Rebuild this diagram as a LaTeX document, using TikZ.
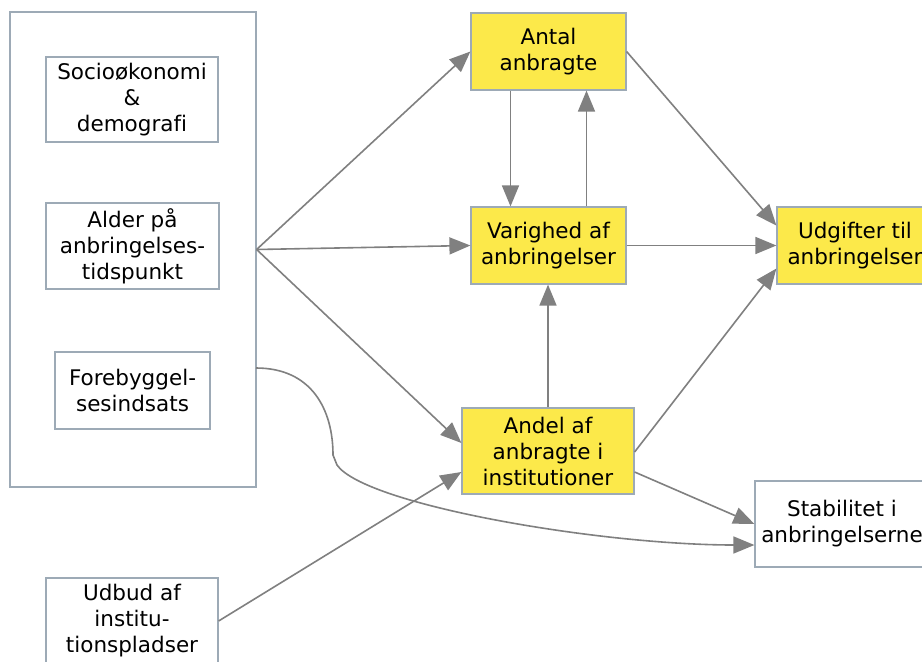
\documentclass[tikz,border=0pt]{standalone}
\usepackage{fontspec}
\setmainfont[Ligatures=NoCommon]{DejaVu Sans}
\usetikzlibrary{arrows.meta,calc}
\definecolor{boxline}{HTML}{9DAAB6}
\definecolor{hilite}{HTML}{FCE94A}
\definecolor{flow}{HTML}{808080}
\begin{document}
\begin{tikzpicture}[x=1pt,y=-1pt,
  box/.style={draw=boxline,line width=1.2pt,fill=white,inner sep=0pt,align=center,
    font=\fontsize{21.5}{26}\selectfont},
  keybox/.style={box,fill=hilite},
  link/.style={draw=flow,line width=1.6pt,-{Triangle[length=21pt,width=17pt]}}]
\clip (0,0) rectangle (922,662);
\fill[white] (0,0) rectangle (922,662);

% left column: background factors grouped in one frame
\node[box,minimum width=246pt,minimum height=475pt] (group) at (133,249.5) {};
\node[box,minimum width=172pt,minimum height=85pt] (socio) at (132,99.5) {Socioøkonomi\\\&\\demografi};
\node[box,minimum width=173pt,minimum height=86pt] (alder) at (132.5,246) {Alder på\\anbringelses-\\tidspunkt};
\node[box,minimum width=155pt,minimum height=77pt] (fore) at (132.5,390.5) {Forebyggel-\\sesindsats};
\node[box,minimum width=172pt,minimum height=86pt] (udbud) at (132,621) {Udbud af\\institu-\\tionspladser};

% middle column: highlighted outcomes
\node[keybox,minimum width=155pt,minimum height=77pt] (antal) at (548.5,51.5) {Antal\\anbragte};
\node[keybox,minimum width=155pt,minimum height=77pt] (varighed) at (548.5,245.5) {Varighed af\\anbringelser};
\node[keybox,minimum width=172pt,minimum height=86pt] (andel) at (548,451) {Andel af\\anbragte i\\institutioner};

% right column
\node[keybox,minimum width=156pt,minimum height=77pt] (udgifter) at (855,245.5) {Udgifter til\\anbringelser};
\node[box,minimum width=174pt,minimum height=86pt] (stab) at (842,524) {Stabilitet i\\anbringelserne};

\coordinate (curvestart) at (256,368);

% connectors
\draw[link] (group.east) -- (antal.west);
\draw[link] (group.east) -- (varighed.west);
\draw[link] (group.east) -- ($(andel.west)+(0,-8)$);
\draw[link] ($(antal.south)+(-38,0)$) -- ($(varighed.north)+(-38,0)$);
\draw[link] ($(varighed.north)+(38,0)$) -- ($(antal.south)+(38,0)$);
\draw[link] (andel.north) -- (andel.north |- varighed.south);
\draw[link] (antal.east) -- ($(udgifter.west)+(0,-20)$);
\draw[link] (varighed.east) -- (udgifter.west);
\draw[link] ($(andel.east)+(0,1)$) -- ($(udgifter.west)+(0,23)$);
\draw[link] ($(andel.east)+(0,21)$) -- (stab.west);
\draw[link] (udbud.east) -- ($(andel.west)+(0,21)$);
\draw[link] (curvestart) .. controls (312,368) and (333,410) .. (333,455)
  -- (337,465) .. controls (365,505) and (600,545) .. ($(stab.west)+(0,21)$);
\end{tikzpicture}
\end{document}
